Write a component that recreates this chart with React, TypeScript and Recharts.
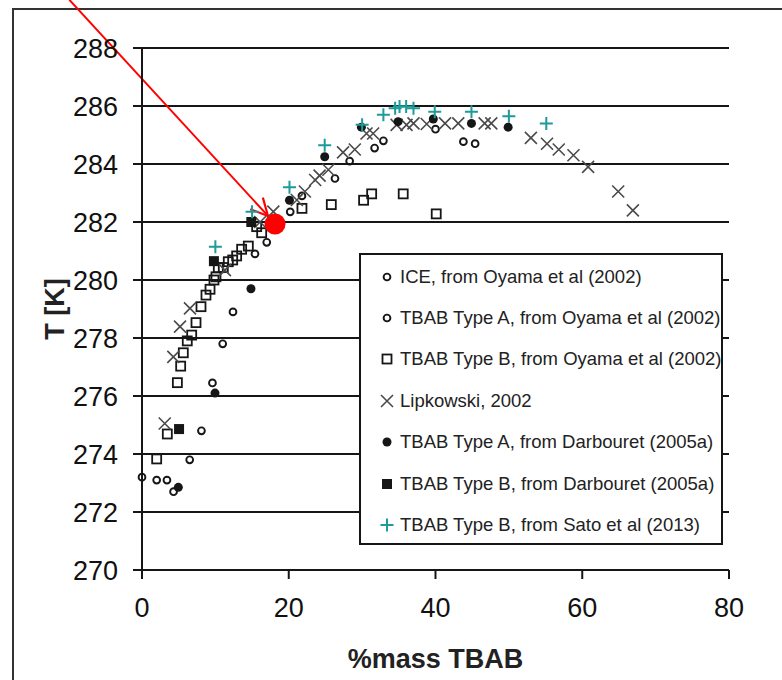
import React from 'react';
import { ScatterChart, Scatter, XAxis, YAxis, CartesianGrid, Legend, ReferenceLine } from 'recharts';

const xTicks = [0, 20, 40, 60, 80];
const yTicks = [270, 272, 274, 276, 278, 280, 282, 284, 286, 288];

// values (%mass TBAB, T in K)
const iceOyama = [
  { x: 0, y: 273.2 }, { x: 2.0, y: 273.1 }, { x: 3.4, y: 273.1 }, { x: 4.3, y: 272.7 },
];

const typeAOyama = [
  { x: 6.5, y: 273.8 }, { x: 8.1, y: 274.8 }, { x: 9.6, y: 276.45 }, { x: 11.0, y: 277.8 },
  { x: 12.4, y: 278.9 }, { x: 15.4, y: 280.9 }, { x: 17.0, y: 281.3 }, { x: 20.2, y: 282.35 },
  { x: 21.8, y: 282.9 }, { x: 26.3, y: 283.5 }, { x: 28.3, y: 284.1 }, { x: 31.7, y: 284.55 },
  { x: 32.9, y: 284.8 }, { x: 40.0, y: 285.2 }, { x: 43.8, y: 284.77 }, { x: 45.4, y: 284.7 },
];

const typeBOyama = [
  { x: 2.0, y: 273.83 }, { x: 3.45, y: 274.69 }, { x: 4.82, y: 276.46 }, { x: 5.27, y: 277.03 },
  { x: 5.63, y: 277.49 }, { x: 6.17, y: 277.9 }, { x: 6.77, y: 278.1 }, { x: 7.36, y: 278.53 },
  { x: 8.04, y: 279.08 }, { x: 8.72, y: 279.48 }, { x: 9.27, y: 279.68 }, { x: 9.81, y: 280.0 },
  { x: 10.08, y: 280.11 }, { x: 10.4, y: 280.42 }, { x: 11.08, y: 280.43 }, { x: 11.76, y: 280.63 },
  { x: 12.36, y: 280.69 }, { x: 12.9, y: 280.83 }, { x: 13.58, y: 281.06 }, { x: 14.49, y: 281.17 },
  { x: 15.63, y: 281.84 }, { x: 16.31, y: 281.63 }, { x: 21.8, y: 282.47 }, { x: 25.8, y: 282.6 },
  { x: 30.2, y: 282.75 }, { x: 31.3, y: 282.97 }, { x: 35.6, y: 282.97 }, { x: 40.1, y: 282.28 },
];

const lipkowski = [
  { x: 3.1, y: 275.05 }, { x: 4.27, y: 277.35 }, { x: 5.18, y: 278.39 }, { x: 6.54, y: 279.02 },
  { x: 11.3, y: 280.34 }, { x: 16.1, y: 282.0 }, { x: 17.9, y: 282.36 }, { x: 21.1, y: 282.76 },
  { x: 22.2, y: 283.05 }, { x: 23.6, y: 283.45 }, { x: 24.2, y: 283.6 }, { x: 25.4, y: 283.8 },
  { x: 27.4, y: 284.4 }, { x: 29.0, y: 284.5 }, { x: 30.6, y: 285.05 }, { x: 31.5, y: 285.05 },
  { x: 34.7, y: 285.35 }, { x: 36.05, y: 285.35 }, { x: 37.0, y: 285.4 }, { x: 38.8, y: 285.38 },
  { x: 41.3, y: 285.4 }, { x: 43.1, y: 285.4 }, { x: 46.7, y: 285.4 }, { x: 47.6, y: 285.4 },
  { x: 53.0, y: 284.9 }, { x: 55.2, y: 284.7 }, { x: 56.8, y: 284.5 }, { x: 58.8, y: 284.3 },
  { x: 60.8, y: 283.9 }, { x: 64.9, y: 283.05 }, { x: 66.9, y: 282.4 },
];

const typeADarbouret = [
  { x: 4.95, y: 272.85 }, { x: 9.95, y: 276.1 }, { x: 14.85, y: 279.7 }, { x: 20.1, y: 282.75 },
  { x: 24.9, y: 284.25 }, { x: 29.9, y: 285.27 }, { x: 34.9, y: 285.46 }, { x: 39.7, y: 285.55 },
  { x: 44.9, y: 285.4 }, { x: 49.9, y: 285.27 },
];

const typeBDarbouret = [
  { x: 5.05, y: 274.86 }, { x: 9.8, y: 280.65 }, { x: 14.9, y: 282.0 },
];

const typeBSato = [
  { x: 10.0, y: 281.15 }, { x: 15.0, y: 282.35 }, { x: 20.1, y: 283.2 }, { x: 24.9, y: 284.65 },
  { x: 30.0, y: 285.35 }, { x: 32.9, y: 285.7 }, { x: 34.5, y: 285.92 }, { x: 35.1, y: 285.98 },
  { x: 36.0, y: 285.98 }, { x: 37.0, y: 285.92 }, { x: 39.9, y: 285.8 }, { x: 44.9, y: 285.8 },
  { x: 50.0, y: 285.65 }, { x: 55.1, y: 285.4 },
];

// red annotation: arrow pointing at the highlighted point
const arrowFrom = { x: -9.9, y: 289.66 };
const arrowTo = { x: 17.17, y: 282.21 };
const highlight = [{ x: 18.13, y: 281.93 }];

const INK = '#161616';
const TEAL = '#1f9a9a';
const FONT = '"Liberation Sans", Arial, Helvetica, sans-serif';

const openCircle = (cx: number, cy: number) => (
  <circle cx={cx} cy={cy} r={3.4} fill="none" stroke={INK} strokeWidth={1.9} />
);
const openSquare = (cx: number, cy: number) => (
  <rect x={cx - 4.5} y={cy - 4.5} width={9} height={9} fill="none" stroke={INK} strokeWidth={1.8} />
);
const cross = (cx: number, cy: number) => (
  <path d={`M${cx - 6},${cy - 6}L${cx + 6},${cy + 6}M${cx - 6},${cy + 6}L${cx + 6},${cy - 6}`} stroke="#4a4a4a" strokeWidth={1.6} />
);
const dot = (cx: number, cy: number) => <circle cx={cx} cy={cy} r={4.5} fill={INK} />;
const filledSquare = (cx: number, cy: number) => (
  <rect x={cx - 5} y={cy - 5} width={10} height={10} fill={INK} />
);
const plus = (cx: number, cy: number) => (
  <path d={`M${cx - 6.5},${cy}L${cx + 6.5},${cy}M${cx},${cy - 6.5}L${cx},${cy + 6.5}`} stroke={TEAL} strokeWidth={2} />
);

const series = [
  { name: 'ICE, from Oyama et al (2002)', data: iceOyama, icon: openCircle },
  { name: 'TBAB Type A, from Oyama et al (2002)', data: typeAOyama, icon: openCircle },
  { name: 'TBAB Type B, from Oyama et al (2002)', data: typeBOyama, icon: openSquare },
  { name: 'Lipkowski, 2002', data: lipkowski, icon: cross },
  { name: 'TBAB Type A, from Darbouret (2005a)', data: typeADarbouret, icon: dot },
  { name: 'TBAB Type B, from Darbouret (2005a)', data: typeBDarbouret, icon: filledSquare },
  { name: 'TBAB Type B, from Sato et al (2013)', data: typeBSato, icon: plus },
];

const ArrowShape = (props: any) => {
  const { x1, y1, x2, y2 } = props;
  const a = Math.atan2(y2 - y1, x2 - x1);
  const len = 19;
  const spread = 0.47;
  const p1 = [x2 - len * Math.cos(a - spread), y2 - len * Math.sin(a - spread)];
  const p2 = [x2 - len * Math.cos(a + spread), y2 - len * Math.sin(a + spread)];
  return (
    <g>
      <line x1={x1} y1={y1} x2={x2} y2={y2} stroke="#ff0000" strokeWidth={2} />
      <path d={`M${p1[0]},${p1[1]}L${x2},${y2}L${p2[0]},${p2[1]}`} fill="none" stroke="#ff0000" strokeWidth={2.2} />
    </g>
  );
};

// legend keeps the series order (recharts would sort the payload by name)
const renderLegend = () => (
  <div
    style={{
      boxSizing: 'border-box',
      width: 364,
      height: 292,
      border: `2px solid ${INK}`,
      background: '#fff',
      paddingTop: 1,
      fontFamily: FONT,
    }}
  >
    {series.map((s) => (
      <div key={s.name} style={{ height: 41.4, display: 'flex', alignItems: 'center' }}>
        <svg width={16} height={16} style={{ marginLeft: 18, marginRight: 5, overflow: 'visible' }}>
          {s.icon(8, 8)}
        </svg>
        <span style={{ fontSize: 18.5, color: '#222', whiteSpace: 'nowrap' }}>{s.name}</span>
      </div>
    ))}
  </div>
);

export default function App() {
  return (
    <div style={{ position: 'absolute', left: 0, top: 0, width: 782, height: 680, overflow: 'hidden', background: '#fff' }}>
      <div
        style={{
          position: 'absolute',
          left: 12,
          top: 8,
          width: 820,
          height: 720,
          border: '2px solid #333',
          boxSizing: 'border-box',
        }}
      />
      <div style={{ position: 'absolute', left: 0, top: 0 }}>
        <ScatterChart width={782} height={680} margin={{ top: 48, right: 53, bottom: 50, left: 0 }}>
          <CartesianGrid vertical={false} stroke={INK} strokeWidth={2} />
          <XAxis
            type="number"
            dataKey="x"
            domain={[0, 80]}
            ticks={xTicks}
            height={60}
            tickSize={9}
            tickMargin={19}
            axisLine={{ stroke: INK, strokeWidth: 2 }}
            tickLine={{ stroke: INK, strokeWidth: 2 }}
            tick={{ fill: '#111', fontSize: 27, fontFamily: FONT }}
            label={(p: any) => (
              <text
                x={p.viewBox.x + p.viewBox.width / 2}
                y={p.viewBox.y + 98}
                textAnchor="middle"
                fontFamily={FONT}
                fontSize={27}
                fontWeight="bold"
                fill="#222"
              >
                %mass TBAB
              </text>
            )}
          />
          <YAxis
            type="number"
            dataKey="y"
            domain={[270, 288]}
            ticks={yTicks}
            width={142}
            tickSize={9}
            tickMargin={15}
            axisLine={{ stroke: INK, strokeWidth: 2 }}
            tickLine={{ stroke: INK, strokeWidth: 2 }}
            tick={{ fill: '#111', fontSize: 27, fontFamily: FONT }}
            label={(p: any) => {
              const cx = p.viewBox.x + 55;
              const cy = p.viewBox.y + p.viewBox.height / 2;
              return (
                <text
                  x={cx}
                  y={cy}
                  transform={`rotate(-90 ${cx} ${cy})`}
                  textAnchor="middle"
                  dominantBaseline="central"
                  fontFamily={FONT}
                  fontSize={27}
                  fontWeight="bold"
                  fill="#222"
                >
                  T [K]
                </text>
              );
            }}
          />
          <Legend
            layout="vertical"
            align="center"
            verticalAlign="middle"
            content={renderLegend}
            wrapperStyle={{ left: 359, top: 253, width: 364, height: 292 }}
          />
          {series.map((s) => (
            <Scatter
              key={s.name}
              name={s.name}
              data={s.data}
              isAnimationActive={false}
              shape={(p: any) => s.icon(p.cx, p.cy)}
            />
          ))}
          <Scatter
            name="highlight"
            data={highlight}
            legendType="none"
            isAnimationActive={false}
            shape={(p: any) => <circle cx={p.cx} cy={p.cy} r={10.5} fill="#ff0000" />}
          />
          <ReferenceLine segment={[arrowFrom, arrowTo]} ifOverflow="visible" shape={ArrowShape} />
        </ScatterChart>
      </div>
    </div>
  );
}
